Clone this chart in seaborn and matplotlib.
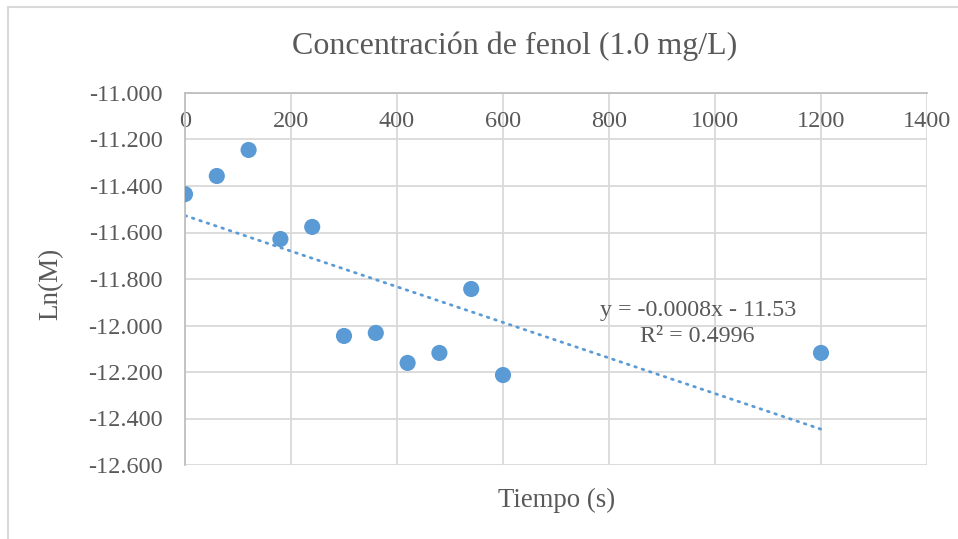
import numpy as np
import pandas as pd
import seaborn as sns
import matplotlib.pyplot as plt
from matplotlib.patches import Rectangle

# tiempo (s) y Ln(M)
tiempo = [0, 60, 120, 180, 240, 300, 360, 420, 480, 540, 600, 1200]
ln_m = [-11.435, -11.357, -11.245, -11.628, -11.576, -12.045,
        -12.032, -12.161, -12.118, -11.843, -12.213, -12.118]
x_ticks = [0, 200, 400, 600, 800, 1000, 1200, 1400]
y_ticks = [-11.0, -11.2, -11.4, -11.6, -11.8, -12.0, -12.2, -12.4, -12.6]

df = pd.DataFrame({"tiempo": tiempo, "ln_m": ln_m})

sns.set_theme(style="white")
plt.rcParams["font.family"] = ["Liberation Serif", "DejaVu Serif"]

blue = "#5B9BD5"
gray_txt = "#595959"

fig = plt.figure(figsize=(9.58, 5.39), dpi=100)
ax = fig.add_axes([185 / 958, 1 - 465 / 539, 742 / 958, 372 / 539])

# linea de tendencia lineal
slope, icpt = np.polyfit(df["tiempo"], df["ln_m"], 1)
xs = np.array([0, max(tiempo)])
sns.lineplot(x=xs, y=slope * xs + icpt, ax=ax, color=blue, lw=2.0,
             linestyle=(0, (0.6, 2.2)), dash_capstyle="round", zorder=2)

sns.scatterplot(data=df, x="tiempo", y="ln_m", ax=ax, color=blue, s=135,
                edgecolor="none", zorder=3)

ax.set_xlim(0, 1400)
ax.set_ylim(-12.6, -11.0)
ax.set_xticks(x_ticks)
ax.set_yticks(y_ticks)
ax.set_yticklabels([f"{v:.3f}" for v in y_ticks])
ax.grid(True, color="#D9D9D9", lw=1.3)
ax.set_axisbelow(True)

for s in ["right", "bottom"]:
    ax.spines[s].set_visible(False)
for s in ["left", "top"]:
    ax.spines[s].set_color("#BFBFBF")
    ax.spines[s].set_linewidth(1.3)

ax.xaxis.set_ticks_position("top")
ax.tick_params(axis="x", length=0, pad=-28, labelsize=17.5, colors=gray_txt)
ax.tick_params(axis="y", length=0, pad=16, labelsize=17.5, colors=gray_txt)

ax.set_xlabel("")
ax.set_ylabel("")
fig.text(557 / 958, 1 - 500 / 539, "Tiempo (s)", ha="center", va="center",
         fontsize=19.3, color=gray_txt)
fig.text(51 / 958, 1 - 284 / 539, "Ln(M)", ha="center", va="center",
         rotation=90, fontsize=19.5, color=gray_txt)
fig.text(515 / 958, 1 - 46 / 539, "Concentración de fenol (1.0 mg/L)",
         ha="center", va="center", fontsize=23, color=gray_txt)

ax.text(0.691, 0.380, "y = -0.0008x - 11.53\nR² = 0.4996", transform=ax.transAxes,
        ha="center", va="center", fontsize=17.3, color=gray_txt, linespacing=1.3)

fig.patches.append(Rectangle((8 / 958, -0.1), 1.2, 1 - 7 / 539 + 0.1,
                             transform=fig.transFigure, fill=False,
                             edgecolor="#D9D9D9", lw=1.5))

fig.savefig("out.png", dpi=100)
